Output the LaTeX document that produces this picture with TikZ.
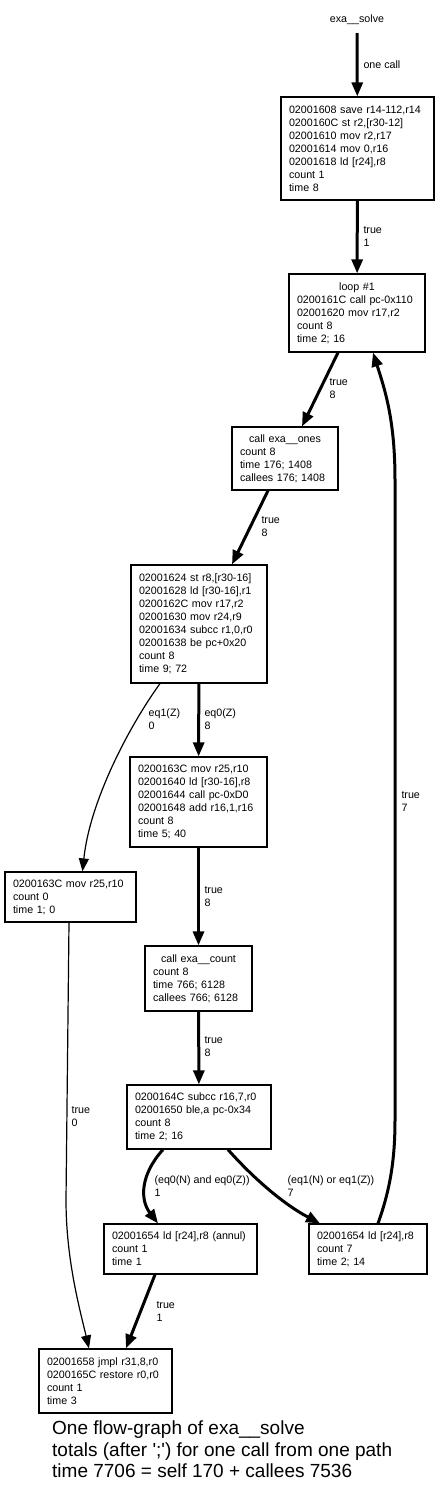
\documentclass[tikz,border=0pt]{standalone}
\usepackage{fontspec}
\setmainfont{Liberation Sans}
\usetikzlibrary{arrows.meta,calc}

\newcommand\nfont{\fontsize{10.7}{13}\selectfont}
\newcommand\capfont{\fontsize{19}{21.5}\selectfont}
\hyphenpenalty=10000
\exhyphenpenalty=10000

\begin{document}
\begin{tikzpicture}[x=1pt,y=-1pt,
        blk/.style 2 args={rectangle,draw,line width=1.2pt,align=left,
                    inner xsep=8pt,inner ysep=0pt,
                    text width=#1,minimum height=#2,font=\nfont},
        lbl/.style={anchor=west,align=left,inner sep=0pt,font=\nfont},
        fat/.style={-{Triangle[length=14pt,width=11pt]},line width=3pt},
        slim/.style={-{Triangle[length=13pt,width=10pt]},line width=1.2pt}]
    \useasboundingbox (0,0) rectangle (440,1493);

    % blocks of the flow graph
    \node[font=\nfont,minimum height=26pt] (fn) at (357,20) {exa\_\_solve};
    \node[blk={137pt}{103pt}] (b1) at (357.5,148.5)
      {02001608 save r14-112,r14\\0200160C st r2,[r30-12]\\02001610 mov r2,r17\\
       02001614 mov 0,r16\\02001618 ld [r24],r8\\count 1\\time 8};
    \node[blk={120pt}{78pt}] (loop) at (357,313)
      {\makebox[\hsize]{loop \#1}\\0200161C call pc-0x110\\02001620 mov r17,r2\\
       count 8\\time 2; 16};
    \node[blk={90pt}{63pt}] (ones) at (285,458.5)
      {\makebox[\hsize]{call exa\_\_ones}\\count 8\\time 176; 1408\\callees 176; 1408};
    \node[blk={120pt}{118pt}] (b3) at (199,624)
      {02001624 st r8,[r30-16]\\02001628 ld [r30-16],r1\\0200162C mov r17,r2\\
       02001630 mov r24,r9\\02001634 subcc r1,0,r0\\02001638 be pc+0x20\\
       count 8\\time 9; 72};
    \node[blk={121pt}{90pt}] (b4) at (198.5,802)
      {0200163C mov r25,r10\\02001640 ld [r30-16],r8\\02001644 call pc-0xD0\\
       02001648 add r16,1,r16\\count 8\\time 5; 40};
    \node[blk={115pt}{50pt}] (b5) at (70.5,897)
      {0200163C mov r25,r10\\count 0\\time 1; 0};
    \node[blk={91pt}{65pt}] (b6) at (198.5,978.5)
      {\makebox[\hsize]{call exa\_\_count}\\count 8\\time 766; 6128\\callees 766; 6128};
    \node[blk={128pt}{64pt}] (b7) at (199,1117)
      {0200164C subcc r16,7,r0\\02001650 ble,a pc-0x34\\count 8\\time 2; 16};
    \node[blk={137pt}{50pt}] (b8) at (180.5,1249)
      {02001654 ld [r24],r8 (annul)\\count 1\\time 1};
    \node[blk={102pt}{50pt}] (b9) at (368,1249)
      {02001654 ld [r24],r8\\count 7\\time 2; 14};
    \node[blk={117pt}{64pt}] (b10) at (105.5,1381)
      {02001658 jmpl r31,8,r0\\0200165C restore r0,r0\\count 1\\time 3};

    \node[anchor=north west,align=left,inner sep=0pt,font=\capfont] (cap) at (52,1421)
      {One flow-graph of exa\_\_solve\\
       totals (after \textquotesingle;\textquotesingle) for one call from one path\\
       time 7706 = self 170 + callees 7536};

    % edges
    \draw[fat] (fn) -- (b1) node[lbl] at (362,65) {one call};
    \draw[fat] (b1) -- (loop) node[lbl] at (362,236.5) {true\\1};
    \draw[fat] ([xshift=-19pt]loop.south) -- ([xshift=17pt]ones.north)
      node[lbl] at (328,389) {true\\8};
    \draw[fat] ([xshift=-17pt]ones.south) -- ([xshift=33pt]b3.north)
      node[lbl] at (260,527) {true\\8};
    \draw[fat] (b3) -- (b4) node[lbl] at (203,719.5) {eq0(Z)\\8};
    \draw[slim] ([xshift=-39pt]b3.south) .. controls (130,725) and (90,800) ..
      ([xshift=12pt]b5.north) node[lbl] at (148,719.5) {eq1(Z)\\0};
    \draw[fat] (b4) -- (b6) node[lbl] at (203,896.5) {true\\8};
    \draw[fat] (b6) -- (b7) node[lbl] at (203,1047) {true\\8};
    \draw[fat] ([xshift=-36pt]b7.south) .. controls (140,1175) and (140,1200) ..
      ([xshift=-22.5pt]b8.north) node[lbl] at (153,1186.5) {(eq0(N) and eq0(Z))\\1};
    \draw[fat] ([xshift=29pt]b7.south) .. controls (255,1180) and (285,1205) ..
      ([xshift=-48pt]b9.north) node[lbl] at (286,1186.5) {(eq1(N) or eq1(Z))\\7};
    \draw[fat] ([xshift=10pt]b9.north) .. controls (390,1190) and (395,1160) .. (395,1120)
      -- (395,480) .. controls (395,420) and (385,390) .. ([xshift=16pt]loop.south)
      node[lbl] at (400,801.5) {true\\7};
    \draw[fat] ([xshift=-25.5pt]b8.south) -- ([xshift=20.5pt]b10.north)
      node[lbl] at (155,1311.5) {true\\1};
    \draw[slim] ([xshift=-1.5pt]b5.south) -- (66,1200) .. controls (66,1260) and (80,1310) ..
      ([xshift=-16.5pt]b10.north) node[lbl] at (71,1117) {true\\0};
\end{tikzpicture}
\end{document}
